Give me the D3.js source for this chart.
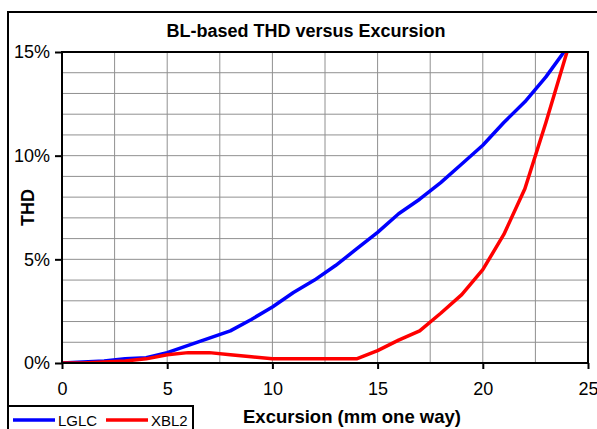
<!DOCTYPE html>
<html>
<head>
<meta charset="utf-8">
<script src="https://cdn.jsdelivr.net/npm/d3@7"></script>
<style>
  body { margin: 0; background: #fff; }
  text { font-family: "Liberation Sans", Arial, sans-serif; fill: #000; }
</style>
</head>
<body>
<svg id="chart" width="597" height="429"></svg>
<script>
// excursion (mm one way) and THD in percent
const excursion = [0, 1, 2, 3, 4, 5, 6, 7, 8, 9, 10, 11, 12, 13, 14, 15, 16, 17, 18, 19, 20, 21, 22, 23, 24];
const lglc = [0, 0.05, 0.1, 0.2, 0.25, 0.5, 0.85, 1.2, 1.55, 2.1, 2.7, 3.4, 4.0, 4.7, 5.5, 6.3, 7.2, 7.9, 8.7, 9.6, 10.5, 11.6, 12.6, 13.8, 15.2];
const xbl2 = [0, 0, 0.05, 0.1, 0.2, 0.4, 0.5, 0.5, 0.4, 0.3, 0.2, 0.2, 0.2, 0.2, 0.2, 0.6, 1.1, 1.55, 2.4, 3.3, 4.5, 6.2, 8.4, 11.6, 15];
const seriesNames = ["LGLC", "XBL2"];
const seriesColors = ["#0000ff", "#ff0000"];
const xTicks = [0, 5, 10, 15, 20, 25];
const yTicks = [0, 5, 10, 15];

const svg = d3.select("#chart");
const m = { left: 62, top: 52, right: 588, bottom: 363 };

const x = d3.scaleLinear().domain([0, 25]).range([m.left, m.right]);
const y = d3.scaleLinear().domain([0, 15]).range([m.bottom, m.top]);

// outer chart border (runs off the right and bottom)
svg.append("rect")
  .attr("x", 8).attr("y", 12)
  .attr("width", 620).attr("height", 440)
  .attr("fill", "#fff").attr("stroke", "#000").attr("stroke-width", 2);

svg.append("text")
  .attr("x", 306).attr("y", 37)
  .attr("text-anchor", "middle")
  .style("font-size", "18px").style("font-weight", "bold")
  .text("BL-based THD versus Excursion");

svg.append("clipPath").attr("id", "plot-clip")
  .append("rect")
  .attr("x", m.left).attr("y", m.top)
  .attr("width", m.right - m.left).attr("height", m.bottom - m.top);

// grid
const grid = svg.append("g").attr("stroke", "#909090").attr("stroke-width", 1);
grid.selectAll("line.gx")
  .data(d3.range(2.5, 25, 2.5))
  .join("line")
  .attr("x1", d => x(d)).attr("x2", d => x(d))
  .attr("y1", m.top).attr("y2", m.bottom);
grid.selectAll("line.gy")
  .data(d3.range(1, 15, 1))
  .join("line")
  .attr("x1", m.left).attr("x2", m.right)
  .attr("y1", d => y(d)).attr("y2", d => y(d));

// axes
const xAxis = svg.append("g")
  .attr("transform", `translate(0,${m.bottom})`)
  .call(d3.axisBottom(x).tickValues(xTicks).tickSize(6).tickPadding(13).tickFormat(d3.format("d")));
const yAxis = svg.append("g")
  .attr("transform", `translate(${m.left},0)`)
  .call(d3.axisLeft(y).tickValues(yTicks).tickSize(7).tickPadding(5).tickFormat(d => d + "%"));
[xAxis, yAxis].forEach(a => {
  a.select(".domain").remove();
  a.selectAll(".tick line").attr("stroke", "#000").attr("stroke-width", 2);
  a.selectAll(".tick text")
    .style("font-size", "18px")
    .style("font-family", "'Liberation Sans', Arial, sans-serif")
    .attr("fill", "#000");
});

// lines
const line = d3.line().x((d, i) => x(excursion[i])).y(d => y(d));
[lglc, xbl2].forEach((s, k) => {
  svg.append("path")
    .datum(s)
    .attr("clip-path", "url(#plot-clip)")
    .attr("d", line)
    .attr("fill", "none")
    .attr("stroke", seriesColors[k])
    .attr("stroke-width", 3.5)
    .attr("stroke-linejoin", "round");
});

// plot border
svg.append("rect")
  .attr("x", m.left).attr("y", m.top)
  .attr("width", m.right - m.left).attr("height", m.bottom - m.top)
  .attr("fill", "none").attr("stroke", "#000").attr("stroke-width", 2);

// axis titles
svg.append("text")
  .attr("x", 352).attr("y", 423)
  .attr("text-anchor", "middle")
  .style("font-size", "18.5px").style("font-weight", "bold")
  .text("Excursion (mm one way)");
svg.append("text")
  .attr("transform", `translate(34,${(m.top + m.bottom) / 2}) rotate(-90)`)
  .attr("text-anchor", "middle")
  .style("font-size", "18px").style("font-weight", "bold")
  .text("THD");

// legend
const lg = svg.append("g");
lg.append("rect")
  .attr("x", 8).attr("y", 406)
  .attr("width", 185).attr("height", 40)
  .attr("fill", "#fff").attr("stroke", "#000").attr("stroke-width", 2);
seriesNames.forEach((n, k) => {
  const x0 = 13 + k * 93;
  lg.append("line")
    .attr("x1", x0).attr("x2", x0 + 42)
    .attr("y1", 420).attr("y2", 420)
    .attr("stroke", seriesColors[k]).attr("stroke-width", 3.5);
  lg.append("text")
    .attr("x", x0 + 45).attr("y", 425.5)
    .style("font-size", "15px")
    .text(n);
});
</script>
</body>
</html>
